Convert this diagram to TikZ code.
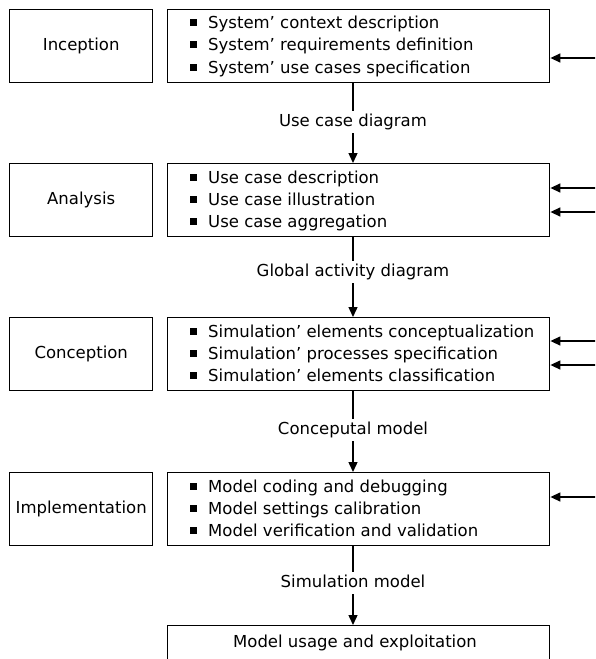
\documentclass[tikz,border=0pt]{standalone}
\usepackage{fontspec}
\setmainfont{DejaVu Sans}
\usetikzlibrary{arrows.meta,positioning}
\tikzset{
  txt/.style={font=\fontsize{16.5}{20}\selectfont},
  phase/.style={draw, line width=1.4pt, minimum width=143pt, minimum height=73pt, anchor=north west, txt},
  task/.style={draw, line width=1.4pt, minimum width=382pt, minimum height=73pt, anchor=north west},
  flowlabel/.style={txt, inner sep=3pt, text height=12pt, text depth=4pt},
  itemtext/.style={anchor=west, txt, inner sep=0pt, text height=12pt, text depth=0pt},
  arr/.style={line width=1.4pt, -{Triangle[length=10pt,width=9pt]}},
  link/.style={line width=1.4pt},
  bul/.style={fill=black, minimum size=7pt, inner sep=0pt}
}
\newcommand{\itemrow}[3]{%
  \node[bul] at (193,#1) {};
  \node[itemtext] (#3) at (208,#1) {#2};}
\begin{document}
\begin{tikzpicture}[x=1pt,y=-1pt]
\useasboundingbox (0,0) rectangle (595,659);
\clip (0,0) rectangle (595,659);

% phase names
\node[phase] (p1) at (9,9) {Inception};
\node[phase] (p2) at (9,163) {Analysis};
\node[phase] (p3) at (9,317) {Conception};
\node[phase] (p4) at (9,472) {Implementation};

% task boxes
\node[task] (t1) at (167,9) {};
\node[task] (t2) at (167,163) {};
\node[task] (t3) at (167,317) {};
\node[task] (t4) at (167,472) {};
\node[task, minimum height=60pt] (t5) at (167,625) {};
\node[txt] (t5txt) at (355,643) {Model usage and exploitation};

% task lists
\itemrow{22}{System’ context description}{a1}
\itemrow{44}{System’ requirements definition}{a2}
\itemrow{67}{System’ use cases specification}{a3}
\itemrow{177}{Use case description}{b1}
\itemrow{199}{Use case illustration}{b2}
\itemrow{221}{Use case aggregation}{b3}
\itemrow{331}{Simulation’ elements conceptualization}{c1}
\itemrow{353}{Simulation’ processes specification}{c2}
\itemrow{375}{Simulation’ elements classification}{c3}
\itemrow{486}{Model coding and debugging}{d1}
\itemrow{508}{Model settings calibration}{d2}
\itemrow{530}{Model verification and validation}{d3}

% products passed between phases
\node[flowlabel] (l1) at (353,122) {Use case diagram};
\node[flowlabel] (l2) at (353,272) {Global activity diagram};
\node[flowlabel] (l3) at (353,430) {Conceputal model};
\node[flowlabel] (l4) at (353,583) {Simulation model};

\draw[link] (t1.south -| l1) -- (l1);
\draw[arr] (l1) -- (l1 |- t2.north);
\draw[link] (t2.south -| l2) -- (l2);
\draw[arr] (l2) -- (l2 |- t3.north);
\draw[link] (t3.south -| l3) -- (l3);
\draw[arr] (l3) -- (l3 |- t4.north);
\draw[link] (t4.south -| l4) -- (l4);
\draw[arr] (l4) -- (l4 |- t5.north);

% feedback inputs from the right
\coordinate (f1) at (600,58);
\coordinate (f2) at (600,188);
\coordinate (f3) at (600,212);
\coordinate (f4) at (600,341);
\coordinate (f5) at (600,365);
\coordinate (f6) at (600,497);
\draw[arr] (f1) -- (f1 -| t1.east);
\draw[arr] (f2) -- (f2 -| t2.east);
\draw[arr] (f3) -- (f3 -| t2.east);
\draw[arr] (f4) -- (f4 -| t3.east);
\draw[arr] (f5) -- (f5 -| t3.east);
\draw[arr] (f6) -- (f6 -| t4.east);
\end{tikzpicture}
\end{document}
